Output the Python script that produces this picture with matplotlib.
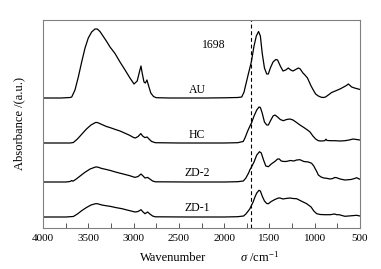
import numpy as np
import matplotlib
matplotlib.use("Agg")
import matplotlib.pyplot as plt
from matplotlib.ticker import MultipleLocator

plt.rcParams['font.family'] = ['Liberation Serif', 'DejaVu Serif']
plt.rcParams['mathtext.fontset'] = 'custom'
plt.rcParams['mathtext.rm'] = 'Liberation Serif'
plt.rcParams['mathtext.it'] = 'Liberation Serif:italic'

# Spectra: wavenumber (cm^-1) and absorbance (a.u., above own baseline)
au_wn = [4000, 3800, 3700, 3683, 3647, 3610, 3573, 3536, 3500, 3463, 3426, 3400, 3371, 3334,
         3297, 3260, 3205, 3150, 3094, 3040, 2995, 2960, 2930, 2918, 2905, 2885, 2870, 2852,
         2840, 2810, 2780, 2750, 2600, 2400, 2200, 2000, 1850, 1806, 1780, 1770, 1733, 1700,
         1670, 1645, 1620, 1600, 1580, 1555, 1530, 1512, 1490, 1460, 1430, 1410, 1380, 1350,
         1320, 1292, 1265, 1240, 1210, 1180, 1160, 1130, 1108, 1080, 1060, 1040, 1016, 990,
         960, 930, 905, 880, 850, 813, 760, 721, 680, 650, 629, 610, 592, 560, 519, 500]
au_ab = [0, 0, 0.5, 1, 8, 21, 36, 50, 60, 66, 69, 69, 66.5, 61.5,
         56.5, 51, 44.5, 36, 28, 20, 14, 17, 28, 32, 25, 16, 15, 18,
         14, 5, 1.5, 0.3, 0, 0, 0, 0.2, 0.5, 1, 6, 10, 24, 36,
         52, 62, 66.5, 62, 45, 30, 24, 24, 30, 36, 38.5, 38, 32, 27,
         28, 30, 28, 27, 28.5, 30, 29, 25, 23, 20, 16, 12, 8, 4,
         2, 0.8, 0.5, 1, 3, 5.5, 7.5, 9, 11, 12.5, 14, 12.5, 11, 10, 9, 8.5]

hc_wn = [4000, 3800, 3700, 3665, 3620, 3570, 3520, 3470, 3420, 3400, 3350, 3300, 3260, 3200,
         3150, 3100, 3050, 3000, 2980, 2950, 2920, 2900, 2875, 2850, 2830, 2800, 2760, 2500,
         2200, 2000, 1850, 1790, 1770, 1740, 1715, 1698, 1670, 1640, 1615, 1600, 1580, 1555,
         1530, 1512, 1490, 1460, 1439, 1410, 1380, 1347, 1310, 1273, 1240, 1200, 1163, 1120,
         1080, 1052, 1020, 990, 960, 930, 890, 875, 865, 820, 776, 720, 666, 620, 574, 540, 500]
hc_ab = [0, 0, 0, 0.5, 4, 9, 14, 18, 20.5, 20.5, 18.5, 16.5, 15.4, 13.5,
         12, 10, 8, 5.5, 5, 6.5, 9.4, 7, 5.4, 6, 4, 1.5, 0.3, 0,
         0, 0, 0.3, 1.5, 5, 12, 17, 20, 27, 33, 36, 35.5, 30, 21,
         18, 18, 22, 27, 28, 26, 23.5, 22.3, 23.5, 24, 23, 20.5, 18, 15.5,
         13, 11, 7, 4, 2.3, 2, 2.3, 3.8, 2.5, 2.3, 2.3, 2, 2.3, 3, 4, 3.5, 3]

zd2_wn = [4000, 3750, 3700, 3683, 3670, 3640, 3590, 3540, 3480, 3420, 3400, 3350, 3300, 3260,
          3200, 3128, 3050, 2984, 2950, 2918, 2895, 2874, 2845, 2820, 2790, 2760, 2400, 2000,
          1850, 1788, 1760, 1730, 1715, 1698, 1670, 1640, 1610, 1590, 1565, 1540, 1512, 1480,
          1439, 1410, 1391, 1370, 1340, 1310, 1270, 1230, 1200, 1163, 1120, 1070, 1034, 1010,
          997, 975, 960, 930, 900, 868, 830, 800, 780, 758, 720, 666, 600, 560, 537, 520, 500]
zd2_ab = [0, 0, 0.5, 1.5, 0.8, 2.5, 6, 9.5, 13, 15, 15, 13.5, 12.5, 11.6,
          10, 8.3, 6.5, 4.6, 5.5, 8, 6, 4, 4.6, 3, 1, 0.2, 0, 0,
          0.3, 1, 4, 9, 12.3, 15, 20, 27, 30.3, 29, 22, 16, 15.3, 18,
          20.6, 23, 23, 21, 20.5, 20.6, 21.5, 21, 22, 22.3, 20.5, 20, 18.7, 16,
          13.7, 10, 7, 5, 4, 3.7, 3, 3.5, 4.5, 4.3, 3, 2, 2.5, 3.5, 4.3, 3.5, 2.7]

zd1_wn = [4000, 3750, 3700, 3665, 3620, 3570, 3520, 3470, 3420, 3400, 3350, 3300, 3260, 3200,
          3128, 3050, 2984, 2950, 2918, 2895, 2874, 2845, 2820, 2790, 2760, 2400, 2000, 1850,
          1785, 1760, 1730, 1715, 1698, 1680, 1660, 1640, 1615, 1600, 1580, 1555, 1530, 1512,
          1480, 1440, 1400, 1384, 1350, 1320, 1273, 1240, 1200, 1150, 1089, 1040, 1010, 978,
          940, 885, 830, 780, 758, 730, 700, 666, 600, 537, 500]
zd1_ab = [0, 0, 0.3, 0.5, 3, 6.5, 9.5, 12, 13.3, 13.3, 12, 11.2, 10.7, 9.5,
          8.3, 6.5, 5, 5.5, 7.3, 5, 3.3, 5, 3, 1, 0.2, 0, 0, 0.3,
          1, 3, 6.5, 8.4, 11.7, 15, 20, 24, 26.7, 26, 21, 16, 13.5, 13.3,
          15.5, 17.5, 19, 19, 18, 18.5, 19, 18.5, 18.3, 16, 13.3, 10, 6, 3.3,
          2.5, 2.3, 2.3, 3, 2.3, 2.3, 1.5, 0.7, 1.2, 1.7, 1]

names = ["AU", "HC", "ZD-2", "ZD-1"]
offsets = [130, 85, 46, 11]
label_wn = 2300
label_dy = [8, 8, 9, 9]
marker_wn = 1698
xticks = [4000, 3500, 3000, 2500, 2000, 1500, 1000, 500]

fig = plt.figure(figsize=(3.81, 2.69), dpi=100)
ax = fig.add_axes([43/381, 1-228/269, 317/381, 208/269])

spectra = [(au_wn, au_ab), (hc_wn, hc_ab), (zd2_wn, zd2_ab), (zd1_wn, zd1_ab)]
for (wn, ab), off, name, dy in zip(spectra, offsets, names, label_dy):
    wn = np.array(wn, float)
    ab = np.array(ab, float)
    ax.plot(wn, ab + off, color='black', lw=0.9, solid_joinstyle='round')
    ax.text(label_wn, off + dy, name, ha='center', va='center', fontsize=8.5)

ax.axvline(marker_wn, color='black', lw=0.8, ls=(0, (3.5, 2.5)))
ax.text(2112, 183, str(marker_wn), ha='center', va='center', fontsize=8.5)

ax.set_xlim(4000, 500)
ax.set_ylim(0, 208)
ax.set_xticks(xticks)
ax.set_xticklabels([str(t) for t in xticks])
ax.xaxis.set_minor_locator(MultipleLocator(250))
ax.set_yticks([])
ax.tick_params(axis='x', which='both', direction='in', length=3.5, width=0.7,
               color='#555555', labelsize=8, pad=4)
for s in ax.spines.values():
    s.set_color('#808080')
    s.set_linewidth(0.8)

fig.text(173/381, 1-258/269, "Wavenumber", ha='center', va='center', fontsize=9)
fig.text(240/381, 1-257/269, r"$\it{\sigma}$ /cm$^{-1}$", ha='left', va='center', fontsize=9)
fig.text(19/381, 1-124/269, "Absorbance /(a.u.)", ha='center', va='center',
         rotation=90, fontsize=9)

fig.savefig("out.png", dpi=100)
